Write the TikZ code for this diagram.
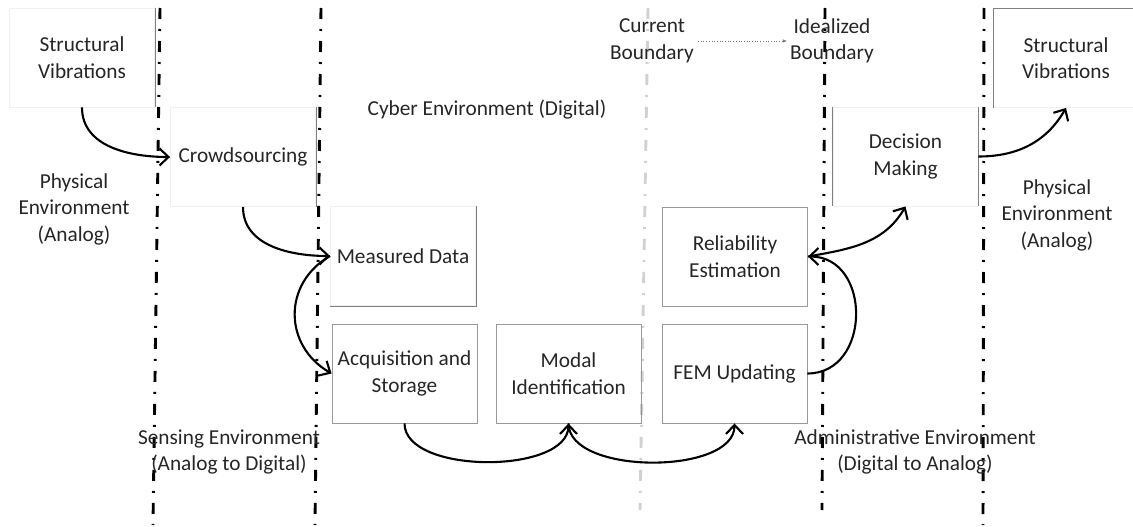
\documentclass[tikz,border=0pt]{standalone}
\usepackage{fontspec}
\setmainfont{Carlito}
\usetikzlibrary{arrows.meta}

\begin{document}
\begin{tikzpicture}[x=1pt,y=1pt,
  lbl/.style={font=\fontsize{21.3}{26.5}\selectfont, text=black!85, align=center, inner sep=0pt},
  cell/.style={lbl, minimum width=145pt, minimum height=99pt, draw=black!40, line width=0.9pt},
  faintcell/.style={cell, draw=black!6},
  edge/.style={draw=black!50, line width=0.9pt},
  boundary/.style={line width=2.9pt, dash pattern=on 11pt off 10pt on 2pt off 10pt},
  conn/.style={line width=2.1pt, -{Straight Barb[length=9pt,width=17pt,line width=2.1pt]}}
]
\useasboundingbox (0,0) rectangle (1133,-527);

% environment boundaries
\draw[boundary, black] (160,-8) -- (153,-525);
\draw[boundary, black] (321,-8) -- (315,-525);
\draw[boundary, black!18] (648,-8) -- (640,-510);
\draw[boundary, black] (825,-8) -- (822,-510);
\draw[boundary, black] (984,-8) -- (983,-525);

% process boxes
\node[faintcell] (sv1) at (82,-57.5) {Structural\\Vibrations};
\node[faintcell] (crowd) at (243,-157) {Crowdsourcing};
\node[faintcell] (meas) at (403,-256) {Measured Data};
\node[cell] (acq) at (404.5,-373.5) {Acquisition and\\Storage};
\node[cell] (modal) at (568.5,-373.5) {Modal\\Identification};
\node[cell] (fem) at (734.5,-373.5) {FEM Updating};
\node[cell] (rel) at (735,-256.5) {Reliability\\Estimation};
\node[faintcell] (dec) at (905.5,-156.5) {Decision\\Making};
\node[faintcell] (sv2) at (1066,-58) {Structural\\Vibrations};

% visible edges of the lighter boxes
\draw[edge] (sv1.north east) -- (sv1.south east);
\draw[edge] (crowd.north east) -- (crowd.south east);
\draw[edge] (meas.north east) -- (meas.south east) -- (meas.south west);
\draw[edge] (dec.north west) -- (dec.south west);
\draw[edge] (dec.north east) -- (dec.south east);
\draw[edge] (sv2.south west) -- (sv2.north west) -- (sv2.north east);

% environment labels
\node[lbl] (physL) at (74,-209) {Physical\\Environment\\(Analog)};
\node[lbl] (physR) at (1057,-215) {Physical\\Environment\\(Analog)};
\node[lbl] (cyber) at (487,-110) {Cyber Environment (Digital)};
\node[lbl] (sens) at (229,-452) {Sensing Environment\\(Analog to Digital)};
\node[lbl] (admin) at (915,-452) {Administrative Environment\\(Digital to Analog)};
\node[lbl] (cur) at (652,-41) {Current\\Boundary};
\node[lbl] (ideal) at (832,-41) {Idealized\\Boundary};

\draw[black!55, line width=0.7pt, dotted, -{Latex[length=4pt,width=3.5pt]}]
  ([xshift=4pt]cur.east) -- ([xshift=-3pt]ideal.west);

% flow
\draw[conn] (sv1.south) to[out=-90, in=180] (crowd.west);
\draw[conn] (crowd.south) to[out=-90, in=180] (meas.west);
\draw[conn] (meas.west) to[out=210, in=150, looseness=1.2] (acq.west);
\draw[conn] (acq.south) to[out=-90, in=-90, looseness=0.8] (modal.south);
\draw[conn] (modal.south) to[out=-90, in=-90, looseness=0.8] (fem.south);
\draw[conn] (fem.east) to[out=0, in=0, looseness=1.4] (rel.east);
\draw[conn] (rel.east) to[out=10, in=-120] (dec.south);
\draw[conn] (dec.east) to[out=0, in=-120] (sv2.south);
\end{tikzpicture}
\end{document}
